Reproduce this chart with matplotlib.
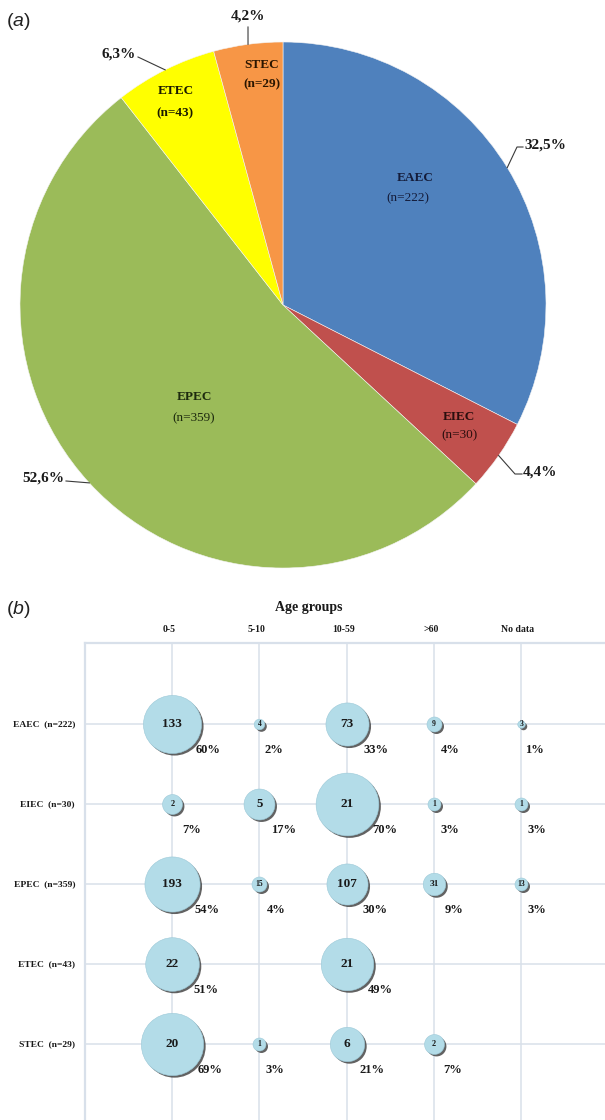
import numpy as np
import matplotlib
matplotlib.use('Agg')
import matplotlib.pyplot as plt
import matplotlib.transforms as mtransforms

# ---------------- data ----------------
pathotypes = ['EAEC', 'EIEC', 'EPEC', 'ETEC', 'STEC']
pie_counts = [222, 30, 359, 43, 29]
pie_pct_labels = ['32,5%', '4,4%', '52,6%', '6,3%', '4,2%']
pie_colors = ['#4F81BD', '#C0504D', '#9BBB59', '#FFFF00', '#F79646']

age_groups = ['0-5', '5-10', '10-59', '>60', 'No data']
row_labels = ['EAEC  (n=222)', 'EIEC  (n=30)', 'EPEC  (n=359)', 'ETEC  (n=43)', 'STEC  (n=29)']
counts_EAEC = [133, 4, 73, 9, 3]
counts_EIEC = [2, 5, 21, 1, 1]
counts_EPEC = [193, 15, 107, 31, 13]
counts_ETEC = [22, None, 21, None, None]
counts_STEC = [20, 1, 6, 2, None]
pct_EAEC = [60, 2, 33, 4, 1]
pct_EIEC = [7, 17, 70, 3, 3]
pct_EPEC = [54, 4, 30, 9, 3]
pct_ETEC = [51, None, 49, None, None]
pct_STEC = [69, 3, 21, 7, None]
counts = [counts_EAEC, counts_EIEC, counts_EPEC, counts_ETEC, counts_STEC]
pcts = [pct_EAEC, pct_EIEC, pct_EPEC, pct_ETEC, pct_STEC]

# ---------------- layout ----------------
W, H = 605, 1120
SERIF = ['Liberation Serif', 'DejaVu Serif']
plt.rcParams['mathtext.fontset'] = 'custom'
plt.rcParams['mathtext.rm'] = 'Liberation Sans'
plt.rcParams['mathtext.it'] = 'Liberation Sans:italic'

fig = plt.figure(figsize=(W / 100, H / 100), dpi=100)


def fx(x):
    return x / W


def fy(y):
    return 1 - y / H


# ---------- (a) pie ----------
cx, cy, R = 283, 305, 263
axp = fig.add_axes([fx(cx - R), fy(cy + R), 2 * R / W, 2 * R / H])
wedges, _ = axp.pie(pie_counts, colors=pie_colors, startangle=90, counterclock=False,
                    wedgeprops=dict(linewidth=0.4, edgecolor='#f4f4f4'))
axp.set_xlim(-1, 1)
axp.set_ylim(-1, 1)
axp.set_aspect('equal')
axp.axis('off')

# inner label centers (px): name line, n line
inner_pos = [((415, 178), (408, 198)), ((459, 417), (459, 435)), ((194, 397), (194, 418)),
             ((176, 91), (175, 113)), ((262, 65), (262, 84))]
n_bold = [False, False, False, True, True]
txt_col = ['#141c3a', '#2a0e0e', '#1d2a0e', '#1a1a00', '#2a1600']
for k, name in enumerate(pathotypes):
    (x1, y1), (x2, y2) = inner_pos[k]
    fig.text(fx(x1), fy(y1), name, ha='center', va='center', family=SERIF,
             fontsize=9.5, fontweight='bold', color=txt_col[k])
    fig.text(fx(x2), fy(y2), f'(n={pie_counts[k]})', ha='center', va='center', family=SERIF,
             fontsize=9.5, fontweight='bold' if n_bold[k] else 'normal', color=txt_col[k])

# percentage labels with leader lines (px path after the wedge edge point, text anchor)
leader_path = [[(517, 147), (523, 147)], [(515, 474), (522, 474)], [(66, 481)],
               [(138, 57)], [(248, 27)]]
text_anchor = [((524, 145), 'left'), ((523, 472), 'left'), ((64, 478), 'right'),
               ((136, 54), 'right'), ((248, 16), 'center')]
for k, w in enumerate(wedges):
    mid = np.deg2rad((w.theta1 + w.theta2) / 2)
    ex, ey = cx + R * np.cos(mid), cy - R * np.sin(mid)
    pts = [(ex, ey)] + leader_path[k]
    fig.add_artist(plt.Line2D([fx(p[0]) for p in pts], [fy(p[1]) for p in pts],
                              color='#3a3a3a', lw=0.8, transform=fig.transFigure))
    (tx, ty), ha = text_anchor[k]
    fig.text(fx(tx), fy(ty), pie_pct_labels[k], ha=ha, va='center', family=SERIF,
             fontsize=11, fontweight='bold', color='#1a1a1a')

fig.text(fx(6), fy(22), r'($\it{a}$)', ha='left', va='center', fontsize=14,
         family='Liberation Sans', color='#222222')
fig.text(fx(6), fy(609), r'($\it{b}$)', ha='left', va='center', fontsize=14,
         family='Liberation Sans', color='#222222')

# ---------- (b) bubble chart ----------
left_px, top_px = 85, 643
axb = fig.add_axes([fx(left_px), 0, (W - left_px) / W, (H - top_px) / H])
axb.set_xlim(-1, 4.96)
axb.set_ylim(4.95, -1.01)
gridc = '#D8E0EA'
for i in range(len(age_groups)):
    axb.axvline(i, color=gridc, lw=1.1, zorder=1)
for j in range(len(row_labels)):
    axb.axhline(j, color=gridc, lw=1.1, zorder=1)
for s in ['right', 'bottom']:
    axb.spines[s].set_visible(False)
for s in ['left', 'top']:
    axb.spines[s].set_color(gridc)
    axb.spines[s].set_linewidth(1.6)
axb.set_xticks([])
axb.set_yticks([])
axb.patch.set_alpha(0)

shadow_tr = mtransforms.offset_copy(axb.transData, fig=fig, x=2.0, y=-2.0, units='dots')
K = 7.5  # px diameter per sqrt(percent)
for j in range(len(row_labels)):
    for i in range(len(age_groups)):
        c = counts[j][i]
        p = pcts[j][i]
        if c is None:
            continue
        d = K * np.sqrt(p)
        s = (d * 0.72) ** 2
        axb.scatter([i], [j], s=s, color='#3b3b3b', transform=shadow_tr, zorder=2,
                    linewidths=0, alpha=0.8)
        axb.scatter([i], [j], s=s, color='#B3DCE8', zorder=3, edgecolors='#9cc9d8',
                    linewidths=0.4)
        fs = float(np.clip(0.3 * d, 5.5, 9.5))
        axb.text(i, j, str(c), ha='center', va='center', family=SERIF, fontsize=fs,
                 fontweight='bold', color='#1a1a1a', zorder=4)
        r = d / 2
        axb.annotate(f'{p}%', (i, j), xytext=((10 + 0.9 * r) * 0.72, -26 * 0.72),
                     textcoords='offset points', ha='center', va='center', family=SERIF,
                     fontsize=9, fontweight='bold', color='#1a1a1a', zorder=4,
                     annotation_clip=False)

col_x0, col_dx = 172, 87.25
row_y0, row_dy = 724, 80
for i, g in enumerate(age_groups):
    fig.text(fx(col_x0 + col_dx * i - 3), fy(630), g, ha='center', va='center', family=SERIF,
             fontsize=7, fontweight='bold', color='#1a1a1a')
for j, lab in enumerate(row_labels):
    fig.text(fx(75), fy(row_y0 + row_dy * j), lab, ha='right', va='center', family=SERIF,
             fontsize=6.8, fontweight='bold', color='#1a1a1a')
fig.text(fx(309), fy(607), 'Age groups', ha='center', va='center', family=SERIF,
         fontsize=10, fontweight='bold', color='#1a1a1a')

fig.savefig('out.png', dpi=100)
